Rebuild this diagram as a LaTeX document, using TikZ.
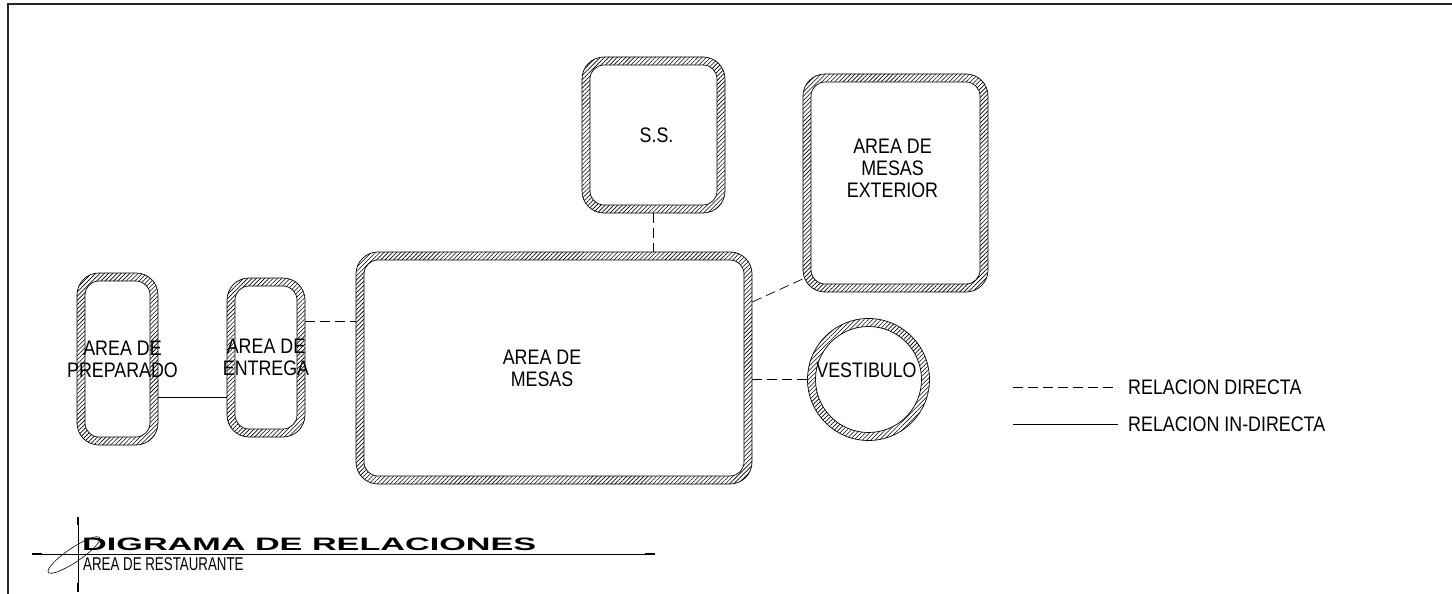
\documentclass[tikz,border=0pt]{standalone}
\usepackage{fontspec}
\setmainfont{Liberation Sans}
\newfontfamily\cadfont[FakeStretch=0.85]{Liberation Sans}
\newfontfamily\titlefont[FakeStretch=1.9]{Liberation Sans}
\newfontfamily\subtitlefont[FakeStretch=0.72]{Liberation Sans}
\usepackage{tikz}
\usetikzlibrary{patterns.meta}

\tikzset{
  wall/.style={draw, line width=0.7pt, inner sep=0pt, rounded corners=22pt,
    pattern={Lines[angle=45, distance=3pt, line width=0.6pt]}},
  floor/.style={draw, line width=0.7pt, fill=white, inner sep=0pt, rounded corners=14pt},
  roomtext/.style={align=center, inner sep=0pt, font=\cadfont\fontsize{21}{22}\selectfont},
  directa/.style={line width=0.7pt, dash pattern=on 10pt off 5pt},
  indirecta/.style={line width=0.7pt},
}

\begin{document}
\begin{tikzpicture}[x=1pt, y=-1pt]
  \useasboundingbox (0,0) rectangle (1452,594);
  % marco
  \draw[line width=1.5pt, black!85] (1452,4) -- (8,4) -- (8,594);

  % areas
  \node[wall, minimum width=81, minimum height=172] (prep) at (117.5,359) {};
  \node[floor, minimum width=65, minimum height=156] (prep-in) at (prep) {};
  \node[roomtext, xshift=5pt] (prep-t) at (prep) {AREA DE\\PREPARADO};

  \node[wall, minimum width=78, minimum height=159] (ent) at (266,357.5) {};
  \node[floor, minimum width=62, minimum height=143] (ent-in) at (ent) {};
  \node[roomtext] (ent-t) at (ent) {AREA DE\\ENTREGA};

  \node[wall, minimum width=396, minimum height=232] (mesas) at (554,368) {};
  \node[floor, minimum width=380, minimum height=216] (mesas-in) at (mesas) {};
  \node[roomtext, xshift=-12pt] (mesas-t) at (mesas) {AREA DE\\MESAS};

  \node[wall, minimum width=143, minimum height=156] (ss) at (653.5,135) {};
  \node[floor, minimum width=127, minimum height=140] (ss-in) at (ss) {};
  \node[roomtext, xshift=3pt] (ss-t) at (ss) {S.S.};

  \node[wall, minimum width=185, minimum height=218] (ext) at (895.5,183) {};
  \node[floor, minimum width=169, minimum height=202] (ext-in) at (ext) {};
  \node[roomtext, xshift=-3pt, yshift=15pt] (ext-t) at (ext) {AREA DE\\MESAS\\EXTERIOR};

  \node[wall, circle, minimum size=122] (vest) at (868.5,379.5) {};
  \node[floor, circle, minimum size=106] (vest-in) at (vest) {};
  \node[roomtext, xshift=-2pt, yshift=9pt] (vest-t) at (vest) {VESTIBULO};

  % relaciones
  \draw[indirecta] ([yshift=-38pt]prep.east) -- ([yshift=-38pt]prep.east -| ent.west);
  \draw[directa] ([yshift=36.5pt]ent.east) -- ([yshift=36.5pt]ent.east -| mesas.west);
  \draw[directa] (ss.south) -- (ss.south |- mesas.north);
  \draw[directa] ([yshift=66pt]mesas.east) -- ([yshift=-96pt]ext.west);
  \draw[directa] (vest.west) -- (vest.west -| mesas.east);

  % leyenda
  \node[roomtext, anchor=west] (ley-dir) at (1128,387) {RELACION DIRECTA};
  \node[roomtext, anchor=west] (ley-ind) at (1128,424) {RELACION IN-DIRECTA};
  \coordinate (ley-dir-a) at (1013,387);
  \coordinate (ley-ind-a) at (1013,424);
  \draw[directa, shorten >=10pt] (ley-dir-a) -- (ley-dir-a -| ley-dir.west);
  \draw[indirecta, shorten >=10pt] (ley-ind-a) -- (ley-ind-a -| ley-ind.west);

  % titulo
  \draw[line width=0.6pt] (78,517) -- (78,592);
  \draw[line width=2.2pt] (78,517) -- (78,525) (78,583) -- (78,592);
  \draw[line width=0.6pt] (32,554) -- (655,554);
  \draw[line width=2.2pt] (32,554) -- (42,554) (645,554) -- (655,554);
  \draw[line width=0.6pt, rotate around={34:(74,555)}] (74,555) ellipse [x radius=31, y radius=7];
  \node[anchor=base west, inner sep=0pt, font=\titlefont\bfseries\fontsize{18}{20}\selectfont]
    (titulo) at (82,550) {DIGRAMA DE RELACIONES};
  \node[anchor=base west, inner sep=0pt, font=\subtitlefont\fontsize{18.5}{20}\selectfont]
    (subtitulo) at (83,570) {AREA DE RESTAURANTE};
\end{tikzpicture}
\end{document}
